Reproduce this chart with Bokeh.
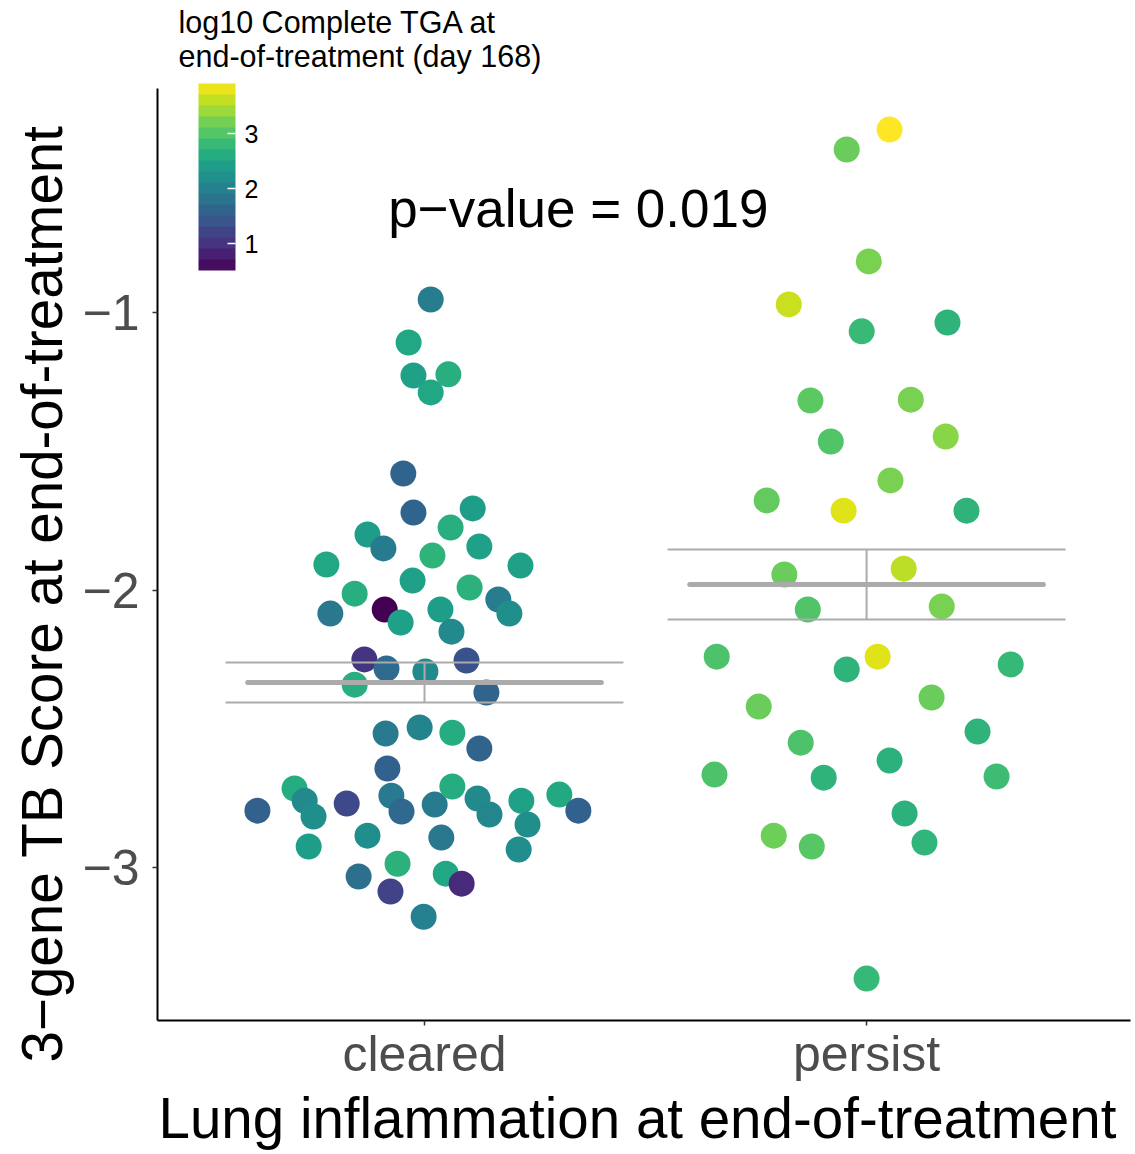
from bokeh.plotting import figure
from bokeh.models import (ColumnDataSource, LinearColorMapper, ColorBar, FixedTicker,
                          Label, Range1d, Title)
from bokeh.palettes import Viridis256
from bokeh.embed import file_html
from bokeh.resources import INLINE

# ---------------- data ----------------
groups = ["cleared", "persist"]
group_pos = [1, 2]

cleared_jitter = [0.014, -0.036, -0.025, 0.054, 0.014, -0.048, -0.025, 0.109, 0.059, -0.129,
                  -0.093, 0.124, 0.018, -0.222, 0.217, -0.158, -0.027, 0.102, -0.213, -0.090,
                  0.036, 0.167, 0.192, -0.054, 0.061, -0.136, -0.086, 0.002, 0.095, -0.158,
                  0.140, -0.088, -0.011, 0.063, 0.124, -0.084, -0.294, -0.271, -0.251, -0.378,
                  -0.176, -0.075, -0.052, 0.023, 0.063, 0.120, 0.147, 0.219, 0.233, 0.305,
                  0.348, -0.262, -0.129, 0.038, 0.213, -0.061, -0.149, 0.048, 0.084, -0.077,
                  -0.002]
cleared_score = [-0.953, -1.108, -1.227, -1.223, -1.288, -1.580, -1.721, -1.706, -1.775, -1.800,
                 -1.850, -1.843, -1.876, -1.908, -1.912, -2.013, -1.966, -1.991, -2.085, -2.070,
                 -2.070, -2.034, -2.085, -2.117, -2.150, -2.250, -2.283, -2.294, -2.254, -2.341,
                 -2.369, -2.517, -2.495, -2.514, -2.571, -2.643, -2.715, -2.759, -2.816, -2.795,
                 -2.769, -2.741, -2.798, -2.773, -2.708, -2.751, -2.809, -2.759, -2.845, -2.737,
                 -2.795, -2.924, -2.885, -2.892, -2.935, -2.986, -3.032, -3.022, -3.058, -3.086,
                 -3.177]
cleared_tga = [1.94, 2.55, 2.45, 2.65, 2.55, 1.60, 1.60, 2.41, 2.65, 2.41,
               1.90, 2.45, 2.72, 2.55, 2.45, 2.65, 2.45, 2.69, 1.87, 0.51,
               2.41, 1.94, 2.21, 2.45, 2.14, 1.02, 1.70, 2.14, 1.36, 2.65,
               1.60, 1.90, 2.04, 2.62, 1.60, 1.56, 2.62, 2.14, 2.21, 1.56,
               1.26, 1.90, 1.67, 1.90, 2.62, 2.14, 2.07, 2.45, 2.21, 2.58,
               1.56, 2.41, 2.21, 1.87, 2.18, 2.69, 1.77, 2.55, 0.92, 1.19,
               2.00]

persist_jitter = [0.052, -0.045, 0.005, -0.176, -0.011, 0.183, -0.127, 0.100, -0.081, 0.179,
                  0.054, -0.226, -0.052, 0.226, -0.186, 0.084, -0.133, 0.170, -0.339, -0.045,
                  0.025, 0.326, -0.244, 0.147, 0.251, -0.149, -0.344, -0.097, 0.052, 0.294,
                  0.086, -0.210, -0.124, 0.131, 0.000]
persist_score = [-0.341, -0.413, -0.816, -0.971, -1.068, -1.036, -1.317, -1.314, -1.465, -1.447,
                 -1.605, -1.677, -1.714, -1.714, -1.944, -1.923, -2.070, -2.059, -2.240, -2.286,
                 -2.240, -2.268, -2.420, -2.387, -2.510, -2.550, -2.665, -2.676, -2.614, -2.672,
                 -2.805, -2.885, -2.924, -2.910, -3.400]
persist_tga = [3.91, 3.13, 3.23, 3.64, 2.82, 2.72, 3.06, 3.23, 2.99, 3.30,
               3.23, 3.09, 3.74, 2.72, 3.13, 3.57, 2.99, 3.23, 2.96, 2.72,
               3.74, 2.79, 3.13, 3.13, 2.72, 2.96, 2.96, 2.72, 2.69, 2.86,
               2.69, 3.16, 3.03, 2.75, 2.79]

group_mean = [-2.333, -1.980]
group_se_low = [-2.405, -2.106]
group_se_high = [-2.261, -1.854]

p_value_text = "p\u2212value = 0.019"
y_ticks = [-3, -2, -1]
y_tick_labels = ["\u22123", "\u22122", "\u22121"]
legend_ticks = [1, 2, 3]
legend_title_lines = ["log10 Complete TGA at", "end-of-treatment (day 168)"]
x_title = "Lung inflammation at end-of-treatment"
y_title = "3\u2212gene TB Score at end-of-treatment"

# panel (data) extent of the y axis
y_panel_min, y_panel_max = -3.551, -0.193

# ---------------- build ----------------
FONT = "Liberation Sans"
all_tga = cleared_tga + persist_tga
tga_lo, tga_hi = min(all_tga), max(all_tga)

xs = [group_pos[0] + j for j in cleared_jitter] + [group_pos[1] + j for j in persist_jitter]
ys = cleared_score + persist_score
src = ColumnDataSource(dict(x=xs, y=ys, tga=all_tga))

point_mapper = LinearColorMapper(palette=Viridis256, low=tga_lo, high=tga_hi)
n_steps = 17
step_palette = [Viridis256[int(round((i + 0.5) / n_steps * 255))] for i in range(n_steps)]
bar_mapper = LinearColorMapper(palette=step_palette, low=tga_lo, high=tga_hi)

# frame runs to the top of the canvas (room for the legend title); the y axis line
# is limited to the data panel via axis bounds.
FRAME_TOP_PX, PANEL_TOP_PX, PANEL_BOTTOM_PX = 0, 88, 1020
px_per_unit = (PANEL_BOTTOM_PX - PANEL_TOP_PX) / (y_panel_max - y_panel_min)
y_top = y_panel_min + (PANEL_BOTTOM_PX - FRAME_TOP_PX) / px_per_unit

p = figure(width=1135, height=1154, output_backend="svg", toolbar_location=None,
           title_location=None,
           x_range=Range1d(0.396, 2.597), y_range=Range1d(y_panel_min, y_top),
           min_border_left=157, min_border_right=5, min_border_top=0, min_border_bottom=134)
p.xgrid.visible = False
p.ygrid.visible = False
p.outline_line_color = None
p.background_fill_color = "white"

p.scatter(x="x", y="y", size=26, source=src,
          fill_color={"field": "tga", "transform": point_mapper}, line_color=None)

half_mean = 0.40
half_se = 0.45
mean_src = ColumnDataSource(dict(
    x0=[g - half_mean for g in group_pos], x1=[g + half_mean for g in group_pos], y=group_mean))
p.segment(x0="x0", y0="y", x1="x1", y1="y", source=mean_src,
          line_color="#ababab", line_width=5, line_cap="round")
se_src = ColumnDataSource(dict(
    g=group_pos, lo=group_se_low, hi=group_se_high,
    x0=[g - half_se for g in group_pos], x1=[g + half_se for g in group_pos]))
p.segment(x0="x0", y0="lo", x1="x1", y1="lo", source=se_src, line_color="#ababab", line_width=2)
p.segment(x0="x0", y0="hi", x1="x1", y1="hi", source=se_src, line_color="#ababab", line_width=2)
p.segment(x0="g", y0="lo", x1="g", y1="hi", source=se_src, line_color="#ababab", line_width=2)

# axes
for ax in (p.xaxis[0], p.yaxis[0]):
    ax.axis_line_color = "black"
    ax.axis_line_width = 2
    ax.major_tick_line_color = "#333333"
    ax.major_tick_line_width = 1.5
    ax.major_tick_out = 5
    ax.major_tick_in = 0
    ax.minor_tick_line_color = None
    ax.major_label_text_font = FONT
    ax.major_label_text_color = "#4d4d4d"
    ax.major_label_text_font_size = "50px"

p.yaxis.bounds = (y_panel_min, y_panel_max)
p.yaxis.ticker = FixedTicker(ticks=y_ticks)
p.yaxis.major_label_overrides = {t: l for t, l in zip(y_ticks, y_tick_labels)}
p.yaxis.major_label_standoff = 13
p.xaxis.ticker = FixedTicker(ticks=group_pos)
p.xaxis.major_label_overrides = {g: n for g, n in zip(group_pos, groups)}
p.xaxis.major_label_standoff = 0

# x axis title (side title, left aligned like the reference)
p.add_layout(Title(text=x_title, align="left", offset=1, standoff=4, vertical_align="top",
                   text_font=FONT, text_font_size="56.5px", text_font_style="normal",
                   text_color="black"), "below")

# y axis title (side title so that it can be offset along the axis)
p.add_layout(Title(text=y_title, align="left", offset=-42, standoff=12,
                   text_font=FONT, text_font_size="56.5px", text_font_style="normal",
                   text_color="black"), "left")

# legend title (inside the tall frame, screen px measured from the frame's bottom-left)
for i, line in enumerate(legend_title_lines):
    p.add_layout(Label(x=21, y=(PANEL_BOTTOM_PX - 21) - 34 * i, x_units="screen", y_units="screen",
                       text=line, text_font=FONT, text_font_size="30.5px", text_color="black",
                       text_align="left", text_baseline="alphabetic"))

# p-value annotation
p.add_layout(Label(x=1.348, y=-0.625, text=p_value_text, text_font=FONT,
                   text_font_size="53px", text_color="black",
                   text_align="center", text_baseline="middle"))

# colour bar legend
cb = ColorBar(color_mapper=bar_mapper, ticker=FixedTicker(ticks=legend_ticks),
              width=37, height=187, location=(41, PANEL_BOTTOM_PX - 270), padding=0, margin=0,
              background_fill_alpha=0, border_line_color=None, bar_line_color=None,
              major_tick_line_color="white", major_tick_line_width=1.5,
              major_tick_in=8, major_tick_out=0, minor_tick_line_color=None,
              major_label_text_font=FONT, major_label_text_font_size="25px",
              major_label_text_color="black", label_standoff=9)
p.add_layout(cb, "center")

open("out.html", "w").write(file_html(p, INLINE))
